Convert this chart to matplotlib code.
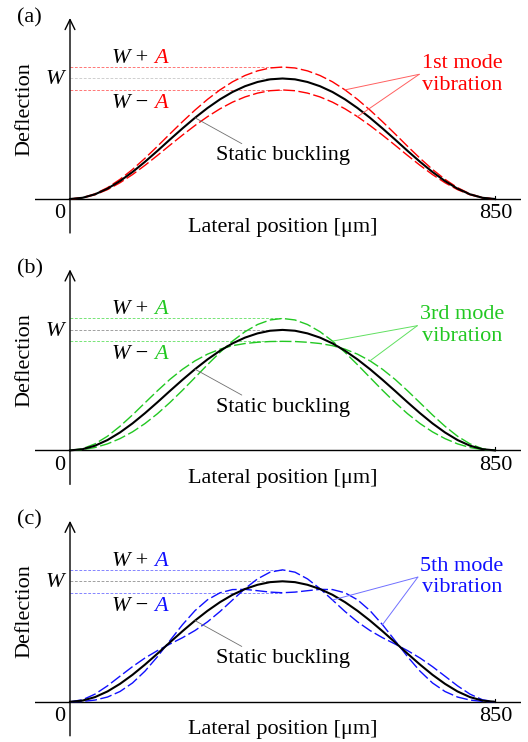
import numpy as np
import matplotlib
matplotlib.use("Agg")
import matplotlib.pyplot as plt

plt.rcParams.update({
    "font.family": "serif",
    "font.serif": ["Liberation Serif", "DejaVu Serif"],
    "font.size": 16,
    "lines.scale_dashes": False,
})

# ---- data (deflection normalised so that the static peak W = 1) ----
x_um = [0, 25, 50, 75, 100, 125, 150, 175, 200, 225, 250, 275, 300, 325,
        350, 375, 400, 425, 450, 475, 500, 525, 550, 575, 600, 625, 650,
        675, 700, 725, 750, 775, 800, 825, 850]

static = [0.000, 0.010, 0.039, 0.086, 0.149, 0.224, 0.309, 0.400, 0.494,
          0.586, 0.674, 0.755, 0.827, 0.888, 0.936, 0.971, 0.993, 1.000,
          0.993, 0.971, 0.936, 0.888, 0.827, 0.755, 0.674, 0.586, 0.494,
          0.400, 0.309, 0.224, 0.149, 0.086, 0.039, 0.010, 0.000]

# vibration mode shapes (value 1 at mid-span)
mode_1st = static
mode_3rd = [0.000, -0.041, -0.159, -0.334, -0.539, -0.741, -0.906, -1.002,
            -1.010, -0.917, -0.729, -0.460, -0.139, 0.200, 0.516, 0.774,
            0.942, 1.000, 0.942, 0.774, 0.516, 0.200, -0.139, -0.460,
            -0.729, -0.917, -1.010, -1.002, -0.906, -0.741, -0.539, -0.334,
            -0.159, -0.041, 0.000]
mode_5th = [0.000, 0.071, 0.259, 0.489, 0.669, 0.713, 0.574, 0.264, -0.152,
            -0.568, -0.868, -0.964, -0.817, -0.456, 0.030, 0.515, 0.870,
            1.000, 0.870, 0.515, 0.030, -0.456, -0.817, -0.964, -0.868,
            -0.568, -0.152, 0.264, 0.574, 0.713, 0.669, 0.489, 0.259, 0.071,
            0.000]

panel_tags = ["(a)", "(b)", "(c)"]
mode_names = ["1st mode\nvibration", "3rd mode\nvibration", "5th mode\nvibration"]
mode_shapes = [mode_1st, mode_3rd, mode_5th]
amplitudes = [0.095, 0.095, 0.095]
main_colors = ["#ff0000", "#22c822", "#1010ff"]
light_colors = ["#ff6060", "#60e060", "#7070ff"]
w_line_colors = ["#c8c8c8", "#909090", "#909090"]
# indices of the points the "vibration" leaders point to (upper, lower)
leader_idx = [(22, 23), (21, 24), (21, 25)]

x = np.array(x_um)
S = np.array(static)

# ---- layout ----
W_PX, H_PX = 528, 742
fig = plt.figure(figsize=(W_PX / 100, H_PX / 100), dpi=100)
axis_rows = [199, 450.4, 701.8]   # pixel row of each x-axis
scale = 120.5                     # pixels per unit deflection
XL = (-70, 902)
YL = (-34 / scale, 181 / scale)


def pm_label(ax, xx, yy, sign, color):
    t1 = ax.text(xx, yy, "W", style="italic", va="baseline", ha="left")
    t2 = ax.annotate(" %s " % sign, xy=(1, 0), xycoords=t1, va="bottom", ha="left")
    ax.annotate("A", xy=(1, 0), xycoords=t2, va="bottom", ha="left",
                style="italic", color=color)


for i in range(3):
    row = axis_rows[i]
    ax = fig.add_axes([35 / W_PX, 1 - (row + 34) / H_PX, 486 / W_PX, 215 / H_PX])
    ax.set_xlim(*XL)
    ax.set_ylim(*YL)
    ax.axis("off")

    col, lcol = main_colors[i], light_colors[i]
    A = amplitudes[i]
    psi = np.array(mode_shapes[i])
    upper = S + A * psi
    lower = S - A * psi

    # axes
    ax.axhline(0, color="black", lw=1.0)
    ax.annotate("", xy=(0, 1), xycoords=("data", "axes fraction"),
                xytext=(0, 0), textcoords=("data", "axes fraction"),
                arrowprops=dict(arrowstyle="->,head_length=0.45,head_width=0.22",
                                lw=1.0, color="black", shrinkA=0, shrinkB=0))
    ax.plot([x[-1], x[-1]], [0, 0.025], color="black", lw=0.8)

    # reference levels
    ax.hlines([1 + A, 1 - A], 0, x[17], colors=lcol, lw=0.6,
              linestyles=(0, (2.0, 1.2)))
    ax.hlines([1], 0, x[17], colors=w_line_colors[i], lw=0.6,
              linestyles=(0, (2.0, 1.2)))

    # curves
    ax.plot(x, upper, color=col, lw=1.0, dashes=(8.5, 2.5))
    ax.plot(x, lower, color=col, lw=1.0, dashes=(8.5, 2.5))
    ax.plot(x, S, color="black", lw=1.5)

    # texts
    ax.text(-81, 1.506, panel_tags[i], ha="center", va="center")
    ax.text(-90, 0.75, "Deflection", rotation=90, ha="center", va="center")
    ax.text(-30, 0.99, "W", style="italic", ha="center", va="center")
    ax.text(-20, -0.16, "0", ha="center", va="baseline")
    ax.text(852, -0.16, "850", ha="center", va="baseline")
    ax.text(425, -0.27, "Lateral position [\u03bcm]", ha="center", va="baseline")

    pm_label(ax, 84, 1 + A + 0.035, "+", col)
    pm_label(ax, 84, 1 - A - 0.15, "\u2212", col)

    ax.annotate("Static buckling", xy=(x[10], S[10]), xytext=(426, 0.32),
                ha="center", va="baseline",
                arrowprops=dict(arrowstyle="-", color="#707070", lw=0.6,
                                relpos=(0.23, 1.0), shrinkA=0, shrinkB=0))

    mt = ax.text(784, 1.035, mode_names[i], color=col, ha="center",
                 va="center", linespacing=1.2)
    iu, il = leader_idx[i]
    for xx, yy in [(x[iu], upper[iu]), (x[il], lower[il])]:
        ax.annotate("", xy=(xx, yy), xycoords="data",
                    xytext=(-0.03, 0.5), textcoords=mt,
                    arrowprops=dict(arrowstyle="-", color=lcol, lw=0.7,
                                    shrinkA=0, shrinkB=0))

fig.savefig("out.png", dpi=100, facecolor="white")
